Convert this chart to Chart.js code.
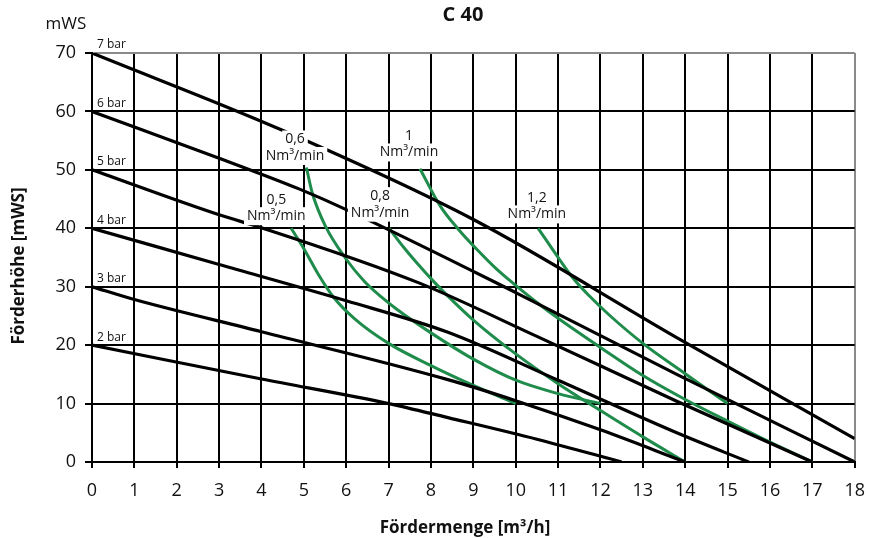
<!DOCTYPE html>
<html>
<head>
<meta charset="utf-8">
<script src="https://cdn.jsdelivr.net/npm/chart.js@4"></script>
<style>
body { margin: 0; background: #fff; }
#wrap { width: 877px; height: 538px; }
</style>
</head>
<body>
<div id="wrap"><canvas id="c"></canvas></div>
<script>
// pressure lines (black)
const bar2x = [0, 4, 7, 8.4, 10.5, 12.5];
const bar2y = [20, 14.2, 10, 7.6, 3.9, 0];
const bar3x = [0, 1, 4, 8.4, 10, 12, 14];
const bar3y = [30, 27.8, 22.3, 14.1, 10.5, 5.5, 0];
const bar4x = [0, 3, 6, 8.4, 11, 13.8, 15.5];
const bar4y = [40, 33.8, 27.6, 22.2, 14, 5, 0];
const bar5x = [0, 3, 4, 7.7, 10.5, 13.8, 17];
const bar5y = [50, 42.3, 40.1, 30.7, 21.5, 10.4, 0];
const bar6x = [0, 3, 4.9, 6, 10, 13.8, 18];
const bar6y = [60, 52, 46.7, 43.2, 29, 15, 0];
const bar7x = [0, 4.55, 9, 13.8, 18];
const bar7y = [70, 56.6, 41.5, 21.3, 4];
const barNames = ['2 bar', '3 bar', '4 bar', '5 bar', '6 bar', '7 bar'];

// air consumption lines (green)
const air05x = [4.7, 5.0, 5.35, 5.7, 6.2, 7, 8, 9, 10];
const air05y = [40, 36.5, 32, 28.2, 24.5, 20.3, 16.5, 13.1, 10];
const air06x = [5.06, 5.2, 5.5, 6, 6.43, 6.82, 7.2, 8, 9, 10, 11, 12];
const air06y = [50.4, 46, 40.5, 34.7, 30.9, 28.3, 26.1, 22.1, 17.6, 14, 11.7, 10];
const air08x = [7.01, 7.35, 7.7, 8.05, 8.4, 9, 10, 11, 12, 13, 14];
const air08y = [40, 36.8, 33.8, 31, 28.4, 24.3, 18.5, 13.4, 8.8, 4.3, 0];
const air10x = [7.74, 8.22, 8.65, 9.08, 9.55, 10.02, 10.5, 11, 12, 13, 14, 15, 16, 17];
const air10y = [50.2, 43.8, 39.8, 36.4, 33, 30.1, 27.3, 24.6, 19.6, 14.8, 10.7, 7, 3.4, 0];
const air12x = [10.53, 11.03, 11.35, 11.74, 12.2, 13, 14, 15];
const air12y = [40, 34.7, 31.5, 28.4, 25.2, 20.3, 15.1, 10];
const airNames = ['0,5', '0,6', '0,8', '1', '1,2'];

// where the air labels sit (x centre, y of first text line)
const airLabelX = [4.35, 4.79, 6.8, 7.48, 10.5];
const airLabelY = [44.9, 55.2, 45.5, 55.8, 45.2];

const FONT = "'Open Sans', 'DejaVu Sans', sans-serif";

function pts(xs, ys) {
    return xs.map((x, i) => ({ x: x, y: ys[i] }));
}

const blackSets = [
    [bar2x, bar2y], [bar3x, bar3y], [bar4x, bar4y],
    [bar5x, bar5y], [bar6x, bar6y], [bar7x, bar7y]
].map((d, i) => ({
    label: barNames[i],
    data: pts(d[0], d[1]),
    borderColor: '#000',
    borderWidth: 3.2,
    pointRadius: 0,
    showLine: true,
    fill: false,
    cubicInterpolationMode: 'monotone'
}));

const greenSets = [
    [air05x, air05y], [air06x, air06y], [air08x, air08y],
    [air10x, air10y], [air12x, air12y]
].map((d, i) => ({
    label: airNames[i],
    data: pts(d[0], d[1]),
    borderColor: '#1f8c4c',
    borderWidth: 3,
    pointRadius: 0,
    showLine: true,
    fill: false,
    cubicInterpolationMode: 'monotone'
}));

// texts drawn on top: bar names, air labels with white boxes, headings
const textPlugin = {
    id: 'texts',
    afterDatasetsDraw(chart) {
        const c = chart.ctx;
        const xs = chart.scales.x, ys = chart.scales.y;
        c.save();

        c.font = '12px ' + FONT;
        c.fillStyle = '#111';
        c.textAlign = 'left';
        c.textBaseline = 'bottom';
        barNames.forEach((n, i) => {
            const v = (i + 2) * 10;
            c.fillText(n, xs.getPixelForValue(0) + 5, ys.getPixelForValue(v) - 2);
        });

        c.font = '14px ' + FONT;
        c.textAlign = 'center';
        c.textBaseline = 'middle';
        airNames.forEach((n, i) => {
            const cx = xs.getPixelForValue(airLabelX[i]);
            const cy = ys.getPixelForValue(airLabelY[i]);
            const lines = [n, 'Nm³/min'];
            lines.forEach((t, k) => {
                const w = c.measureText(t).width;
                const y = cy + k * 16.5;
                c.fillStyle = '#fff';
                c.fillRect(cx - w / 2 - 3, y - 9, w + 6, 18);
            });
            lines.forEach((t, k) => {
                c.fillStyle = '#111';
                c.fillText(t, cx, cy + k * 16.5);
            });
        });

        c.fillStyle = '#111';
        c.font = 'bold 20px ' + FONT;
        c.fillText('C 40', 463, 15);

        c.font = '17px ' + FONT;
        c.fillText('mWS', 66, 24);

        c.font = 'bold 17px ' + FONT;
        c.fillText('Fördermenge [m³/h]', 465, 528);

        c.translate(19, 266);
        c.rotate(-Math.PI / 2);
        c.fillText('Förderhöhe [mWS]', 0, 0);
        c.restore();
    }
};

new Chart(document.getElementById('c'), {
    type: 'scatter',
    data: { datasets: blackSets.concat(greenSets) },
    options: {
        responsive: true,
        maintainAspectRatio: false,
        animation: false,
        layout: { padding: { top: 53, right: 16, left: 0, bottom: 0 } },
        plugins: {
            legend: { display: false },
            tooltip: { enabled: false }
        },
        scales: {
            x: {
                type: 'linear',
                min: 0,
                max: 18,
                ticks: { stepSize: 1, color: '#111', padding: 12, font: { family: FONT, size: 18 } },
                grid: {
                    color: ctx => ctx.tick && ctx.tick.value === 18 ? '#8a8a8a' : '#000',
                    lineWidth: 2,
                    tickLength: 6,
                    tickColor: '#000'
                },
                border: { color: '#000', width: 2 },
                afterFit: s => { s.height = 76; }
            },
            y: {
                type: 'linear',
                min: 0,
                max: 70,
                ticks: { stepSize: 10, color: '#111', padding: 9, font: { family: FONT, size: 18 } },
                grid: {
                    color: ctx => ctx.tick && ctx.tick.value === 70 ? '#8a8a8a' : '#000',
                    lineWidth: 2,
                    tickLength: 7,
                    tickColor: '#000'
                },
                border: { color: '#000', width: 2 },
                afterFit: s => { s.width = 92; }
            }
        }
    },
    plugins: [textPlugin]
});
</script>
</body>
</html>
